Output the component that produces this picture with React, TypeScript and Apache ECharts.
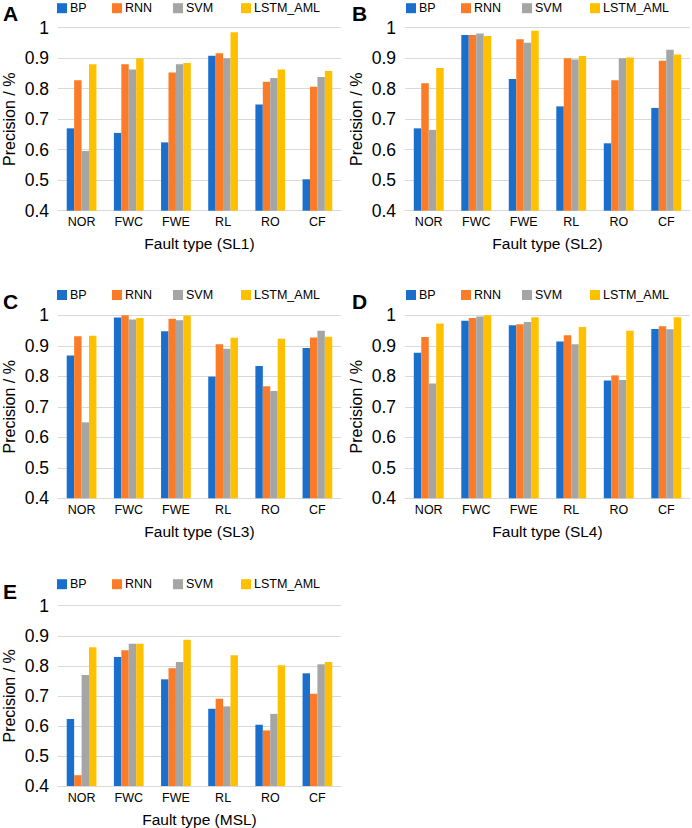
import React, { useEffect, useRef } from "react";
import * as echarts from "echarts";

const categories = ["NOR", "FWC", "FWE", "RL", "RO", "CF"];
const seriesNames = ["BP", "RNN", "SVM", "LSTM_AML"];
const colors = ["#1b6fcc", "#fb7c28", "#a5a5a5", "#ffc000"];

// Panel A (SL1)
const a_BP = [0.670, 0.655, 0.624, 0.908, 0.748, 0.503];
const a_RNN = [0.828, 0.880, 0.853, 0.916, 0.823, 0.806];
const a_SVM = [0.596, 0.863, 0.880, 0.900, 0.835, 0.838];
const a_LSTM = [0.880, 0.900, 0.884, 0.985, 0.863, 0.858];
// Panel B (SL2)
const b_BP = [0.670, 0.976, 0.832, 0.742, 0.621, 0.737];
const b_RNN = [0.818, 0.976, 0.962, 0.900, 0.828, 0.892];
const b_SVM = [0.665, 0.981, 0.951, 0.896, 0.900, 0.928];
const b_LSTM = [0.868, 0.973, 0.990, 0.907, 0.902, 0.912];
// Panel C (SL3)
const c_BP = [0.868, 0.993, 0.948, 0.799, 0.834, 0.893];
const c_RNN = [0.931, 1.0, 0.989, 0.905, 0.767, 0.927];
const c_SVM = [0.649, 0.986, 0.984, 0.890, 0.752, 0.949];
const c_LSTM = [0.933, 0.991, 0.999, 0.926, 0.923, 0.930];
// Panel D (SL4)
const d_BP = [0.877, 0.982, 0.967, 0.914, 0.786, 0.955];
const d_RNN = [0.929, 0.991, 0.971, 0.935, 0.803, 0.964];
const d_SVM = [0.776, 0.996, 0.978, 0.905, 0.788, 0.954];
const d_LSTM = [0.973, 1.0, 0.994, 0.962, 0.949, 0.994];
// Panel E (MSL)
const e_BP = [0.623, 0.829, 0.755, 0.657, 0.604, 0.775];
const e_RNN = [0.436, 0.852, 0.792, 0.690, 0.585, 0.707];
const e_SVM = [0.769, 0.873, 0.813, 0.665, 0.640, 0.805];
const e_LSTM = [0.862, 0.873, 0.887, 0.835, 0.802, 0.813];

const panelLetters = ["A", "B", "C", "D", "E"];
const panelNames = [
  "Fault type (SL1)",
  "Fault type (SL2)",
  "Fault type (SL3)",
  "Fault type (SL4)",
  "Fault type (MSL)",
];
const yTicks = { min: 0.4, max: 1, interval: 0.1 };

const FONT = "Liberation Sans, Arial, sans-serif";

export default function App() {
  const ref = useRef<HTMLDivElement>(null);
  useEffect(() => {
    document.body.style.margin = "0";
    if (!ref.current) return;
    const chart = echarts.init(ref.current, undefined, { renderer: "svg" });
    const data = [
      [a_BP, a_RNN, a_SVM, a_LSTM],
      [b_BP, b_RNN, b_SVM, b_LSTM],
      [c_BP, c_RNN, c_SVM, c_LSTM],
      [d_BP, d_RNN, d_SVM, d_LSTM],
      [e_BP, e_RNN, e_SVM, e_LSTM],
    ];
    const layout = [
      { left: 56, top: 27.7, ox: 0, oy: 0, ly: 1.7 },
      { left: 405, top: 27.7, ox: 349, oy: 0, ly: 1.7 },
      { left: 56, top: 315.3, ox: 0, oy: 287.6, ly: 288.5 },
      { left: 405, top: 315.3, ox: 349, oy: 287.6, ly: 288.5 },
      { left: 56, top: 605.7, ox: 0, oy: 578, ly: 577.7 },
    ];
    const legendOffsets = [1, 56, 117, 185];
    const W = 285;
    const H = 183;
    const grids: any[] = [];
    const xAxes: any[] = [];
    const yAxes: any[] = [];
    const series: any[] = [];
    const legends: any[] = [];
    const graphics: any[] = [];
    layout.forEach((p, i) => {
      grids.push({ left: p.left, top: p.top, width: W, height: H });
      xAxes.push({
        type: "category",
        gridIndex: i,
        data: categories,
        axisTick: { show: false },
        axisLine: { lineStyle: { color: "#d9d9d9", width: 1 } },
        axisLabel: { color: "#000", fontSize: 12.5, fontFamily: FONT, margin: 5 },
        name: panelNames[i],
        nameLocation: "middle",
        nameGap: 25,
        nameTextStyle: { color: "#000", fontSize: 15.5, fontFamily: FONT },
      });
      yAxes.push({
        type: "value",
        gridIndex: i,
        min: yTicks.min,
        max: yTicks.max,
        interval: yTicks.interval,
        axisLine: { show: false },
        axisTick: { show: false },
        splitLine: { lineStyle: { color: "#d9d9d9", width: 1 } },
        axisLabel: {
          color: "#000",
          fontSize: 17.5,
          fontFamily: FONT,
          margin: 9,
          formatter: (v: number) => String(+v.toFixed(1)),
        },
        name: "Precision / %",
        nameLocation: "middle",
        nameGap: 41,
        nameRotate: 90,
        nameTextStyle: { color: "#000", fontSize: 16, fontFamily: FONT },
      });
      data[i].forEach((vals, k) => {
        series.push({
          type: "bar",
          name: seriesNames[k],
          xAxisIndex: i,
          yAxisIndex: i,
          data: vals,
          barGap: "0%",
          barCategoryGap: "37%",
          itemStyle: { color: colors[k] },
        });
        legends.push({
          data: [seriesNames[k]],
          left: p.left + legendOffsets[k],
          top: p.ly,
          padding: 0,
          itemWidth: 10,
          itemHeight: 10,
          icon: "rect",
          selectedMode: false,
          textStyle: { color: "#000", fontSize: 12.5, fontFamily: FONT, padding: [0, 0, 0, -2] },
        });
      });
      graphics.push({
        type: "text",
        left: p.ox + 3,
        top: p.oy + 3,
        style: {
          text: panelLetters[i],
          fontSize: 21,
          fontWeight: "bold",
          fontFamily: FONT,
          fill: "#000",
        },
      });
    });
    chart.setOption({
      animation: false,
      backgroundColor: "#fff",
      grid: grids,
      xAxis: xAxes,
      yAxis: yAxes,
      series,
      legend: legends,
      graphic: graphics,
    });
    return () => chart.dispose();
  }, []);
  return <div ref={ref} style={{ width: 692, height: 828 }} />;
}
